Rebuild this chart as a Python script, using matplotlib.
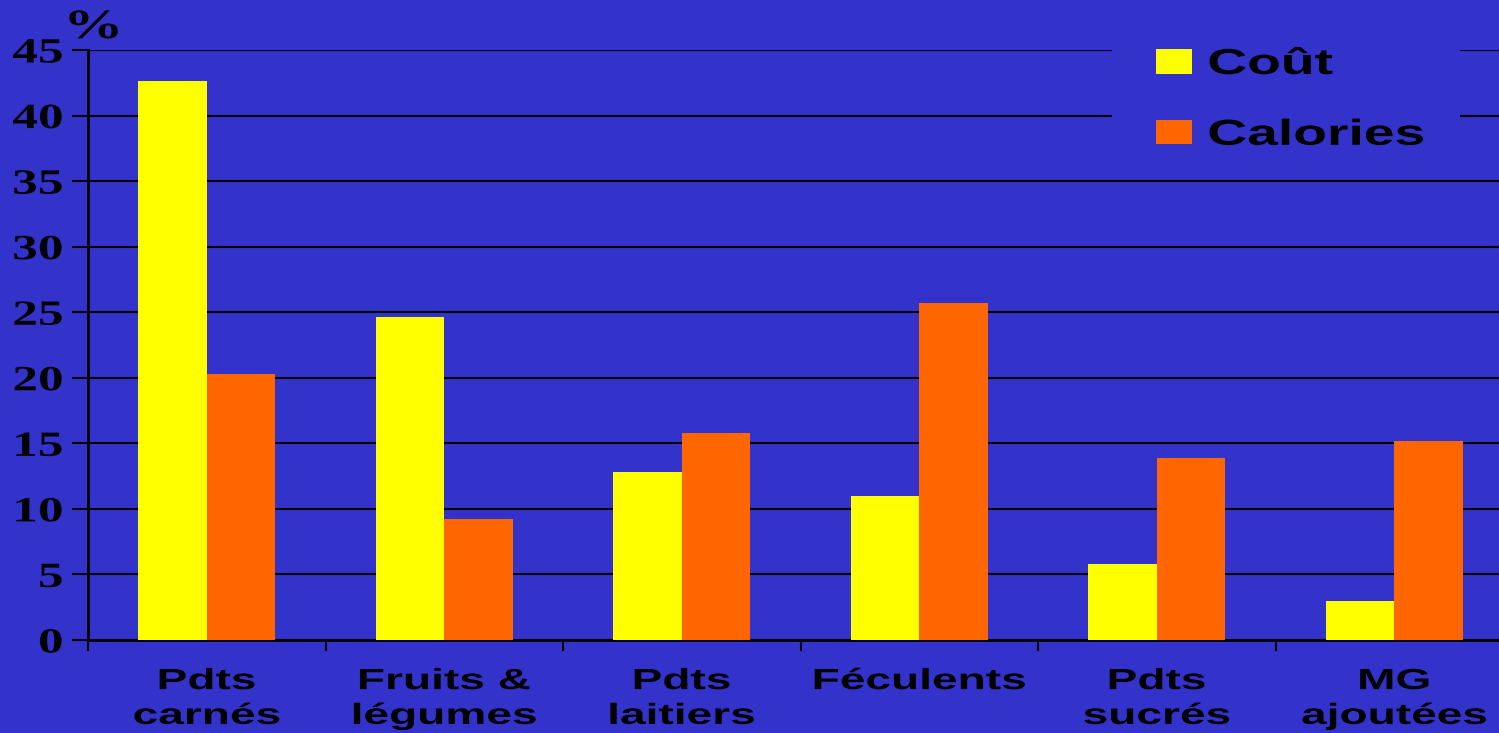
import matplotlib.pyplot as plt
import numpy as np
from matplotlib.patheffects import AbstractPathEffect
from matplotlib.transforms import Affine2D
from matplotlib.patches import Rectangle

# Data
categories = ['Pdts\ncarnés', 'Fruits &\nlégumes', 'Pdts\nlaitiers',
              'Féculents', 'Pdts\nsucrés', 'MG\najoutées']
cout = [42.6, 24.6, 12.8, 11.0, 5.8, 3.0]
calories = [20.3, 9.2, 15.8, 25.7, 13.9, 15.2]
series_names = ['Coût', 'Calories']

BG = '#3333CC'
YELLOW = '#FFFF00'
ORANGE = '#FF6600'
SANS = 'Liberation Sans'
SERIF = 'Liberation Serif'
SX = 1.58  # horizontal stretch of the category names


class Stretch(AbstractPathEffect):
    """Widen glyphs horizontally around the left, centre or right of each line."""

    def __init__(self, sx, anchor='center'):
        super().__init__()
        self.sx = sx
        self.anchor = anchor

    def draw_path(self, renderer, gc, tpath, affine, rgbFace=None):
        ext = tpath.get_extents(affine)
        if self.anchor == 'left':
            cx = ext.x0
        elif self.anchor == 'right':
            cx = ext.x1
        else:
            cx = 0.5 * (ext.x0 + ext.x1)
        t = affine + Affine2D().translate(-cx, 0).scale(self.sx, 1).translate(cx, 0)
        renderer.draw_path(gc, tpath, t, rgbFace)


fig = plt.figure(figsize=(14.99, 7.33), dpi=100, facecolor=BG)
ax = fig.add_axes([88 / 1499, 93 / 733, 1425 / 1499, 590 / 733])
ax.set_facecolor(BG)

x = np.arange(len(categories))
w = 0.288
ax.bar(x - w / 2, cout, w, color=YELLOW, label=series_names[0], zorder=3)
ax.bar(x + w / 2, calories, w, color=ORANGE, label=series_names[1], zorder=3)

ax.set_xlim(-0.5, len(categories) - 0.5)
ax.set_ylim(0, 45)
ax.set_yticks(np.arange(0, 46, 5))
ax.yaxis.grid(True, color='black', linewidth=1.5, zorder=1)
ax.set_axisbelow(True)

for s in ['top', 'right']:
    ax.spines[s].set_visible(False)
ax.spines['left'].set_linewidth(2)
ax.spines['bottom'].set_linewidth(2)

ax.tick_params(axis='y', length=11.5, width=1.5, pad=6.5)
for lab in ax.get_yticklabels():
    lab.set_fontfamily(SERIF)
    lab.set_fontweight('bold')
    lab.set_fontsize(25.5)
    lab.set_path_effects([Stretch(1.45, 'right')])

# category names at the centres, tick marks between groups
ax.set_xticks(x)
ax.set_xticklabels(categories, fontfamily=SANS, fontweight='bold',
                   fontsize=21, linespacing=1.31, va='top')
for lab in ax.get_xticklabels():
    lab.set_path_effects([Stretch(SX, 'center')])
ax.tick_params(axis='x', which='major', length=0, pad=19.5)
ax.set_xticks(np.arange(-0.5, len(categories), 1), minor=True)
ax.tick_params(axis='x', which='minor', length=8, width=1.5)

fig.text(65 / 1499, 1 - 38 / 733, '%', fontfamily=SERIF, fontweight='bold',
         fontsize=30, ha='left', va='baseline',
         path_effects=[Stretch(1.45, 'left')])

# plain background behind the legend hides the grid there
ax.add_patch(Rectangle((1112 / 1499, 1 - 160 / 733), 348 / 1499, 130 / 733,
                       transform=fig.transFigure, facecolor=BG, edgecolor='none',
                       clip_on=False, zorder=4))

leg = ax.legend(loc='upper left', bbox_to_anchor=(1156 / 1499, 1 - 47 / 733),
                bbox_transform=fig.transFigure,
                prop={'family': SANS, 'weight': 'bold', 'size': 26},
                frameon=False, handlelength=1.0, handleheight=0.67,
                handletextpad=0.44, labelspacing=0.99, borderpad=0,
                borderaxespad=0)
leg.set_zorder(5)
for t in leg.get_texts():
    t.set_path_effects([Stretch(1.53, 'left')])

fig.savefig('out.png', dpi=100, facecolor=BG)
